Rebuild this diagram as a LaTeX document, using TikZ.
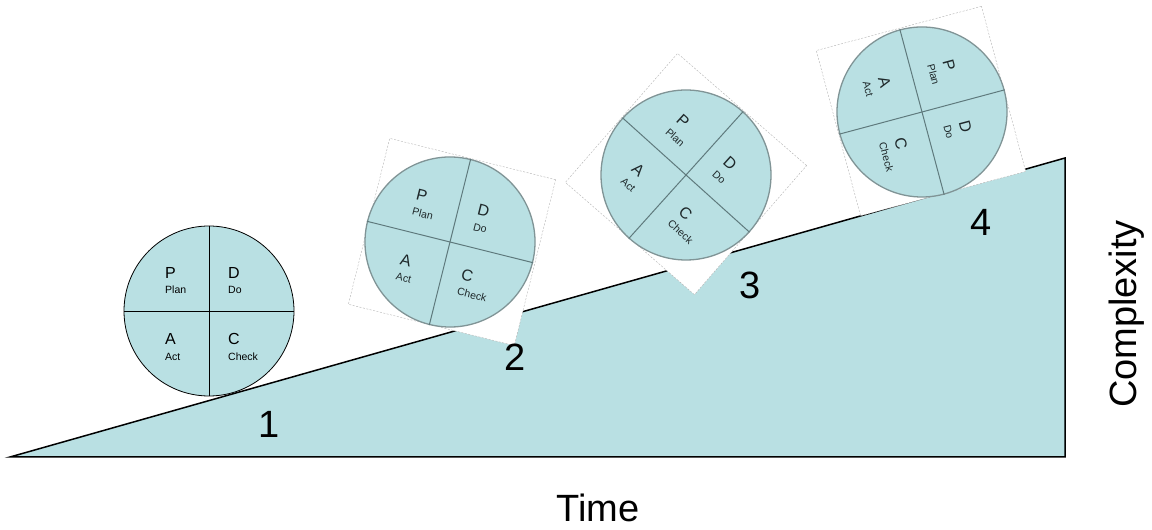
\documentclass[tikz,border=0pt]{standalone}
\usepackage{fontspec}
\setmainfont{Liberation Sans}
\definecolor{aqua}{RGB}{185,224,227}
\definecolor{rimgray}{RGB}{128,148,150}
\definecolor{spokegray}{RGB}{95,122,125}
\definecolor{inkgray}{RGB}{30,40,42}
\newcommand{\pdcawheel}[4]{%
  \node[#2] (#1) at (0,0) {};
  \draw[#3] (#1.north) -- (#1.south);
  \draw[#3] (#1.west) -- (#1.east);
  \node[letter,text=#4] (#1p) at (-44,32.7) {P};
  \node[word,text=#4] (#1pw) at (-44,17) {Plan};
  \node[letter,text=#4] (#1d) at (19,32.7) {D};
  \node[word,text=#4] (#1dw) at (19,17) {Do};
  \node[letter,text=#4] (#1a) at (-44,-34) {A};
  \node[word,text=#4] (#1aw) at (-44,-49.7) {Act};
  \node[letter,text=#4] (#1c) at (19,-34) {C};
  \node[word,text=#4] (#1cw) at (19,-49.7) {Check};
}
\begin{document}
\begin{tikzpicture}[x=1pt,y=1pt,
  wheelA/.style={circle, draw=black, line width=0.8pt, fill=aqua, minimum size=170pt, inner sep=0pt},
  wheelB/.style={circle, draw=rimgray, line width=1.3pt, fill=aqua, minimum size=170pt, inner sep=0pt},
  spokeA/.style={draw=black, line width=0.8pt},
  spokeB/.style={draw=spokegray, line width=1pt},
  letter/.style={anchor=base west, inner sep=0pt, font=\fontsize{16}{16}\selectfont},
  word/.style={anchor=base west, inner sep=0pt, font=\fontsize{10.5}{10.5}\selectfont},
  frame/.style={draw=gray!60, line width=0.4pt, dash pattern=on 2pt off 1.5pt, fill=white, minimum size=171pt, inner sep=0pt},
  big/.style={font=\fontsize{38}{38}\selectfont, inner sep=0pt},
  slope/.style={draw=black, line width=1.5pt, fill=aqua, line join=miter}]
\useasboundingbox (0,0) rectangle (1152,530);
\coordinate (tl) at (10,73);
\coordinate (tb) at (1065,73);
\coordinate (tt) at (1065,372);
\draw[slope] (tl) -- (tb) -- (tt) -- cycle;
\node[frame, rotate=-14] (f2) at (452,288) {};
\node[frame, rotate=-41] (f3) at (686,356) {};
\node[frame, rotate=15] (f4) at (921,419) {};
\begin{scope}[shift={(209,219)}]
  \pdcawheel{w1}{wheelA}{spokeA}{black}
\end{scope}
\begin{scope}[shift={(450,288)}, rotate=-14, transform shape]
  \pdcawheel{w2}{wheelB}{spokeB}{inkgray}
\end{scope}
\begin{scope}[shift={(686,355)}, rotate=-42, transform shape]
  \pdcawheel{w3}{wheelB}{spokeB}{inkgray}
\end{scope}
\begin{scope}[shift={(922,418)}, rotate=-75, transform shape]
  \pdcawheel{w4}{wheelB}{spokeB}{inkgray}
\end{scope}
\node[big] (n1) at (269,106) {1};
\node[big] (n2) at (515,173) {2};
\node[big] (n3) at (750,245) {3};
\node[big] (n4) at (981,308) {4};
\node[big, anchor=base] (time) at (598,8) {Time};
\node[big, rotate=90] (cplx) at (1127,216) {Complexity};
\end{tikzpicture}
\end{document}
